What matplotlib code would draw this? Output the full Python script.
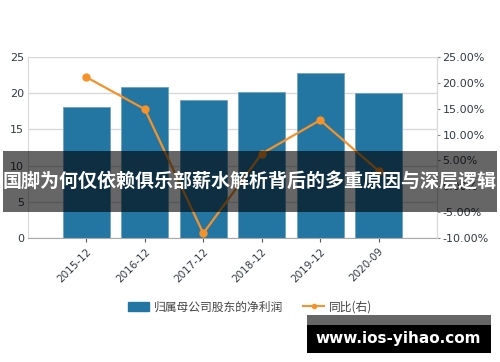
import matplotlib
matplotlib.use("Agg")
from matplotlib import pyplot as plt
from matplotlib.patches import Rectangle
from matplotlib.lines import Line2D
from matplotlib.ticker import FuncFormatter


periods = ["2015-12", "2016-12", "2017-12", "2018-12", "2019-12", "2020-09"]
net_profit = [18.1, 20.8, 19.0, 20.2, 22.8, 20.0]
yoy_pct = [21.1, 14.9, -9.1, 6.3, 12.8, 3.0]

left_ticks = [0, 5, 10, 15, 20, 25]
right_ticks = [-10, -5, 0, 5, 10, 15, 20, 25]

title = "国脚为何仅依赖俱乐部薪水解析背后的多重原因与深层逻辑"
watermark = "www.ios-yihao.com"
bar_label = "归属母公司股东的净利润"
line_label = "同比(右)"

BAR_COLOR = "#2476a2"
LINE_COLOR = "#f5922a"
GRID_COLOR = "#d9d9d9"
TEXT_COLOR = "#333a44"

plt.rcParams["font.family"] = ["Noto Sans CJK SC", "DejaVu Sans"]


def main():
    fig = plt.figure(figsize=(5.0, 3.62), dpi=100)
    ax = fig.add_axes([0.056, 0.3425, 0.818, 0.5])
    x = list(range(len(periods)))

    ax.bar(x, net_profit, width=0.8, color=BAR_COLOR, edgecolor="#6fa3c2",
           linewidth=0.6, zorder=2)
    ax.set_xlim(-1, len(periods))
    ax.set_ylim(0, 25)
    ax.set_yticks(left_ticks)
    ax.yaxis.grid(True, color=GRID_COLOR, linewidth=1, zorder=0)
    ax.set_axisbelow(True)
    ax.set_xticks(x)
    ax.set_xticklabels(periods, rotation=45, ha="right", rotation_mode="anchor",
                       fontsize=7.5, color=TEXT_COLOR, family="DejaVu Sans")
    ax.tick_params(axis="x", length=3, color="#555555", pad=3)
    ax.tick_params(axis="y", length=0, pad=3, labelsize=8, labelcolor=TEXT_COLOR)
    for lab in ax.get_yticklabels():
        lab.set_family("DejaVu Sans")
    ax.spines["top"].set_visible(False)
    ax.spines["left"].set_color(GRID_COLOR)
    ax.spines["right"].set_color(GRID_COLOR)
    ax.spines["bottom"].set_color("#aaaaaa")

    ax2 = ax.twinx()
    ax2.plot(x, yoy_pct, color=LINE_COLOR, linewidth=1.6, marker="o",
             markersize=5, zorder=3)
    ax2.set_ylim(-10, 25)
    ax2.set_yticks(right_ticks)
    ax2.yaxis.set_major_formatter(FuncFormatter(lambda v, p: "%.2f%%" % v))
    ax2.tick_params(axis="y", length=2, color="#888888", pad=2, labelsize=8,
                    labelcolor=TEXT_COLOR)
    for lab in ax2.get_yticklabels():
        lab.set_family("DejaVu Sans")
    for side in ["top", "left", "bottom"]:
        ax2.spines[side].set_visible(False)
    ax2.spines["right"].set_color(GRID_COLOR)

    handles = [
        Rectangle((0, 0), 1, 1, color=BAR_COLOR),
        Line2D([0], [0], color=LINE_COLOR, marker="o", markersize=3, linewidth=1.5),
    ]
    fig.legend(handles, [bar_label, line_label], loc="center",
               bbox_to_anchor=(0.50, 0.152), ncol=2, frameon=False, fontsize=8.5,
               handlelength=1.8, handleheight=0.9, columnspacing=1.7,
               handletextpad=0.4, labelcolor="#444444")

    # overlay banner with headline
    fig.patches.append(Rectangle((0.006, 0.414), 0.988, 0.168, transform=fig.transFigure,
                                 facecolor="black", alpha=0.6, zorder=10))
    fig.text(0.5, 0.497, title, color="white", fontsize=13.7, fontweight="bold",
             ha="center", va="center", zorder=11)

    # watermark box
    fig.patches.append(Rectangle((0.614, 0.102), 0.368, 0.028, transform=fig.transFigure,
                                 facecolor="#666666", zorder=10))
    fig.patches.append(Rectangle((0.614, 0.025), 0.368, 0.078, transform=fig.transFigure,
                                 facecolor="black", zorder=10))
    fig.text(0.796, 0.066, watermark, color="white", fontsize=11, fontweight="bold",
             ha="center", va="center", family="DejaVu Sans", zorder=11)

    fig.savefig("out.png", dpi=100)


if __name__ == "__main__":
    main()
